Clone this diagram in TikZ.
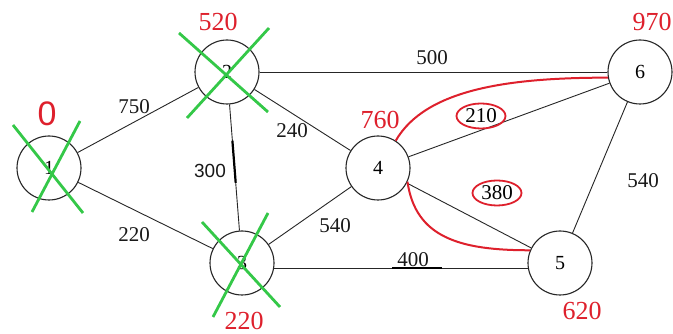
\documentclass[tikz,border=0pt]{standalone}
\usepackage{fontspec}
\setmainfont{Liberation Serif}
\newfontfamily\sansnum{Liberation Sans}
\usetikzlibrary{calc,shapes.geometric}
\definecolor{pathred}{RGB}{222,32,44}
\definecolor{donegreen}{RGB}{52,200,72}
\tikzset{
  vertex/.style={circle,draw=black!85,line width=1.1pt,minimum size=64pt,inner sep=0pt,font=\fontsize{20}{20}\selectfont},
  edge/.style={draw=black!85,line width=0.9pt},
  weight/.style={font=\fontsize{21}{21}\selectfont,text=black!90},
  dist/.style={font=\fontsize{26}{26}\selectfont,text=pathred},
  picked/.style={draw=pathred,line width=2pt},
  ring/.style={ellipse,draw=pathred,line width=1.8pt,inner sep=0pt,minimum width=49pt,minimum height=25pt,font=\fontsize{21}{21}\selectfont},
  cross/.style={draw=donegreen,line width=2.8pt},
  ink/.style={draw=black,line width=2.2pt}
}
\begin{document}
\begin{tikzpicture}[x=1pt,y=1pt]
\useasboundingbox (0,0) rectangle (673,334);
\fill[white] (0,0) rectangle (673,334);

% vertices
\node[vertex] (n1) at (49,166) {1};
\node[vertex] (n2) at (227,262) {2};
\node[vertex] (n3) at (242,71) {3};
\node[vertex] (n4) at (378,166) {4};
\node[vertex] (n5) at (560,71) {5};
\node[vertex] (n6) at (640,262) {6};

% edges
\path[edge] (n1) -- (n2);
\path[edge] (n1) -- (n3);
\path[edge] (n2) -- (n3);
\path[edge] (n2) -- (n4);
\path[edge] (n2.east) -- (n6.west);
\path[edge] (n3) -- (n4);
\path[edge] (n3.-9) -- (n5.189);
\path[edge] (n4) -- (n5);
\path[edge] (n4) -- (n6);
\path[edge] (n5) -- (n6);

% heavier strokes along two edges
\path[ink] ($(n2)!0.36!(n3)$) -- ($(n2)!0.58!(n3)$);
\path[ink,line width=1.8pt] ($(n3.-9)!0.465!(n5.189)$) -- ($(n3.-9)!0.661!(n5.189)$);

% chosen paths out of vertex 4
\path[picked] (n4.57) .. controls +(30,52) and +(-98,0) .. (n6.190);
\path[picked] (n4.-25) .. controls +(8,-56) and +(-70,0) .. (n5.157);

% edge weights
\node[weight] (w12) at (134,227) {750};
\node[weight] (w13) at (134,99) {220};
\node[weight,font=\sansnum\fontsize{19}{19}\selectfont] (w23) at (210,163) {300};
\node[weight] (w24) at (292,203) {240};
\node[weight] (w34) at (335,108) {540};
\node[weight] (w35) at (413,74) {400};
\node[weight] (w26) at (432,276) {500};
\node[weight] (w56) at (643,153) {540};
\node[ring] (w46) at (481,218) {210};
\node[ring] (w45) at (497,141) {380};

% tentative distances
\node[dist,font=\sansnum\fontsize{34}{34}\selectfont] (d1) at (47,220) {0};
\node[dist] (d2) at (218,312) {520};
\node[dist] (d3) at (244,13) {220};
\node[dist] (d4) at (380,214) {760};
\node[dist] (d5) at (582,23) {620};
\node[dist] (d6) at (652,312) {970};

% settled vertices crossed out
\path[cross] ($(n1)+(-36,43)$) -- ($(n1)+(34,-45)$);
\path[cross] ($(n1)+(31,47)$) -- ($(n1)+(-17,-44)$);
\path[cross] ($(n2)+(-48,39)$) -- ($(n2)+(41,-40)$);
\path[cross] ($(n2)+(42,44)$) -- ($(n2)+(-40,-46)$);
\path[cross] ($(n3)+(-40,41)$) -- ($(n3)+(38,-44)$);
\path[cross] ($(n3)+(26,50)$) -- ($(n3)+(-29,-54)$);
\end{tikzpicture}
\end{document}
